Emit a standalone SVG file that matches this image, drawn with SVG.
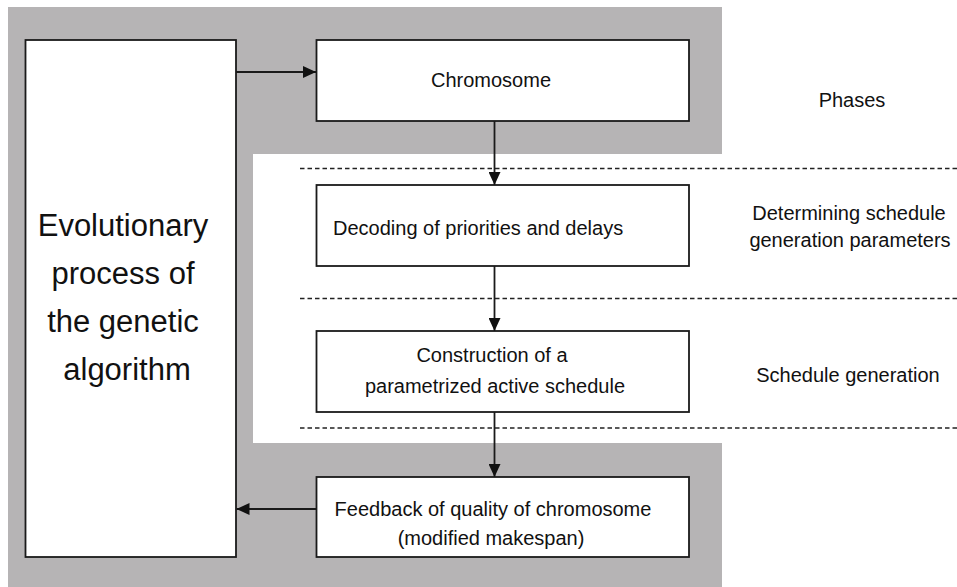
<svg xmlns="http://www.w3.org/2000/svg" width="957" height="587" viewBox="0 0 957 587">
  <style>
    .box { fill: #ffffff; stroke: #1a1a1a; stroke-width: 1.8; }
    .lbl { font-family: "Liberation Sans", Arial, sans-serif; font-size: 20px; fill: #111111; }
    .big { font-family: "Liberation Sans", Arial, sans-serif; font-size: 31px; fill: #111111; text-anchor: middle; }
    .mid { text-anchor: middle; }
    .flow { stroke: #1a1a1a; stroke-width: 1.8; fill: none; marker-end: url(#arrow); }
    .phase { stroke: #222222; stroke-width: 1.5; stroke-dasharray: 4.5 3; fill: none; }
  </style>
  <defs>
    <marker id="arrow" markerUnits="userSpaceOnUse" markerWidth="13" markerHeight="12" refX="13" refY="6" orient="auto">
      <path d="M0,0 L13,6 L0,12 Z" fill="#111111"/>
    </marker>
  </defs>

  <rect width="957" height="587" fill="#ffffff"/>

  <!-- gray band with the white notch for the schedule-generation phases -->
  <path d="M8,7 H722 V154 H253 V443 H722 V587 H8 Z" fill="#b6b4b5"/>

  <!-- phase separators -->
  <g id="phase-lines">
    <line class="phase" x1="300" y1="168.5" x2="957" y2="168.5"/>
    <line class="phase" x1="300" y1="298.5" x2="957" y2="298.5"/>
    <line class="phase" x1="300" y1="428" x2="957" y2="428"/>
  </g>

  <g id="evolution">
    <rect class="box" x="25.5" y="40" width="210.5" height="517"/>
    <text class="big" x="123" y="236">Evolutionary</text>
    <text class="big" x="123" y="284">process of</text>
    <text class="big" x="123" y="332">the genetic</text>
    <text class="big" x="127" y="380">algorithm</text>
  </g>

  <g id="chromosome">
    <rect class="box" x="316.5" y="40" width="372.5" height="81"/>
    <text class="lbl mid" x="491" y="87">Chromosome</text>
  </g>

  <g id="decoding">
    <rect class="box" x="316.5" y="185" width="372.5" height="81"/>
    <text class="lbl" x="333" y="235">Decoding of priorities and delays</text>
  </g>

  <g id="construction">
    <rect class="box" x="316.5" y="331" width="372.5" height="81"/>
    <text class="lbl mid" x="492" y="362">Construction of a</text>
    <text class="lbl mid" x="495" y="393">parametrized active schedule</text>
  </g>

  <g id="feedback">
    <rect class="box" x="316.5" y="477" width="372.5" height="80"/>
    <text class="lbl mid" x="493" y="516">Feedback of quality of chromosome</text>
    <text class="lbl mid" x="491" y="545">(modified makespan)</text>
  </g>

  <g id="phase-labels">
    <text class="lbl mid" x="852" y="107">Phases</text>
    <text class="lbl mid" x="849" y="220">Determining schedule</text>
    <text class="lbl mid" x="850" y="247">generation parameters</text>
    <text class="lbl mid" x="848" y="382">Schedule generation</text>
  </g>

  <g id="connectors">
    <line class="flow" x1="236" y1="72" x2="316" y2="72"/>
    <line class="flow" x1="494.5" y1="121" x2="494.5" y2="185"/>
    <line class="flow" x1="494.5" y1="266" x2="494.5" y2="331"/>
    <line class="flow" x1="494.5" y1="412" x2="494.5" y2="477"/>
    <line class="flow" x1="316.5" y1="509" x2="236.5" y2="509"/>
  </g>
</svg>
